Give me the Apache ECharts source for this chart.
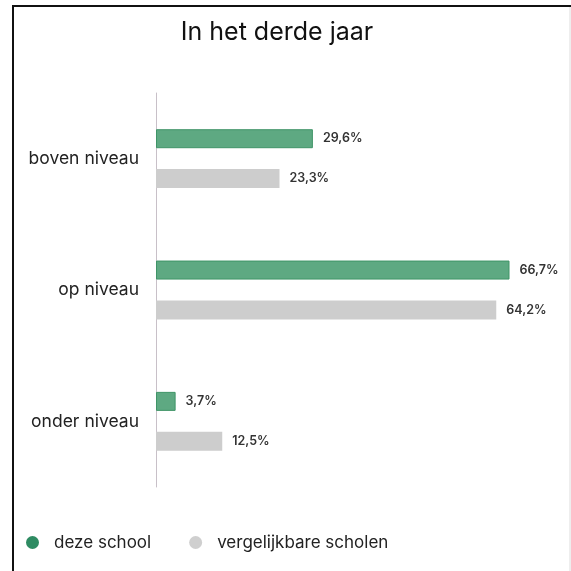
<!DOCTYPE html>
<html>
<head>
<meta charset="utf-8">
<script src="https://cdn.jsdelivr.net/npm/echarts@6/dist/echarts.min.js"></script>
<style>
html,body{margin:0;padding:0;background:#fff;}
#c{width:571px;height:571px;}
</style>
</head>
<body>
<div id="c"></div>
<script>
var categories = ['boven niveau', 'op niveau', 'onder niveau'];
var dezeSchool = [29.6, 66.7, 3.7];
var vergelijkbareScholen = [23.3, 64.2, 12.5];
var seriesNames = ['deze school', 'vergelijkbare scholen'];
var titleText = 'In het derde jaar';

var FONT = 'Inter';
var chart = echarts.init(document.getElementById('c'), null, {renderer: 'canvas'});
function fmt(p) { return p.value.toFixed(1).replace('.', ',') + '%'; }
chart.setOption({
  animation: false,
  backgroundColor: '#ffffff',
  title: {
    text: titleText,
    left: 272, top: 15, textAlign: 'center',
    textStyle: {fontFamily: FONT, fontSize: 25, fontWeight: 'normal', color: '#111'}
  },
  legend: {
    left: 21, top: 529,
    itemWidth: 13, itemHeight: 13, itemGap: 38,
    icon: 'circle',
    textStyle: {fontFamily: FONT, fontSize: 17, color: '#222', padding: [0, 0, 0, 10]},
    data: [
      {name: seriesNames[0], itemStyle: {color: '#2e8b62', borderWidth: 0}},
      {name: seriesNames[1], itemStyle: {color: '#cfcfcf', borderWidth: 0}}
    ]
  },
  grid: {left: 156, top: 93, width: 397.5, height: 394, containLabel: false},
  xAxis: {
    type: 'value', min: 0, max: 75,
    show: false
  },
  yAxis: {
    type: 'category', data: categories, inverse: true,
    axisLine: {show: true, lineStyle: {color: '#c8c0c8', width: 1}},
    axisTick: {show: false},
    axisLabel: {fontFamily: FONT, fontSize: 17.5, color: '#222', margin: 17}
  },
  series: [
    {
      name: seriesNames[0], type: 'bar', data: dezeSchool,
      barWidth: 19, barGap: '110%',
      itemStyle: {color: '#5ea982', borderColor: '#3f9467', borderWidth: 1},
      label: {show: true, position: 'right', distance: 10, formatter: fmt,
        fontFamily: FONT, fontSize: 12.5, fontWeight: 600, color: '#333'}
    },
    {
      name: seriesNames[1], type: 'bar', data: vergelijkbareScholen,
      barWidth: 19,
      itemStyle: {color: '#cdcdcd'},
      label: {show: true, position: 'right', distance: 10, formatter: fmt,
        fontFamily: FONT, fontSize: 12.5, fontWeight: 600, color: '#333'}
    }
  ],
  graphic: [
    {type: 'line', shape: {x1: 13, y1: 6, x2: 13, y2: 571}, style: {stroke: '#111', lineWidth: 2}},
    {type: 'line', shape: {x1: 12, y1: 6, x2: 571, y2: 6}, style: {stroke: '#111', lineWidth: 2}},
    {type: 'line', shape: {x1: 570, y1: 7, x2: 570, y2: 571}, style: {stroke: '#dddddd', lineWidth: 1}}
  ]
});
</script>
</body>
</html>
